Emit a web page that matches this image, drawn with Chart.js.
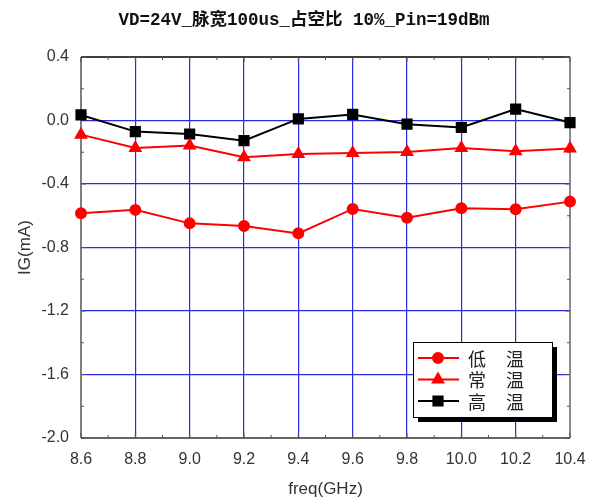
<!DOCTYPE html>
<html>
<head>
<meta charset="utf-8">
<script src="https://cdn.jsdelivr.net/npm/chart.js@4.4.0/dist/chart.umd.min.js"></script>
<style>
  html, body { margin: 0; padding: 0; background: #fff; }
  #wrap { width: 594px; height: 504px; }
</style>
</head>
<body>
<div id="wrap"><canvas id="igChart"></canvas></div>
<script>
// 数据：从原图读取
const freqs = [8.6, 8.8, 9.0, 9.2, 9.4, 9.6, 9.8, 10.0, 10.2, 10.4];
const lowTemp = [-0.584, -0.563, -0.648, -0.665, -0.711, -0.557, -0.612, -0.553, -0.559, -0.511];
const roomTemp = [-0.089, -0.173, -0.158, -0.232, -0.211, -0.205, -0.199, -0.173, -0.194, -0.177];
const highTemp = [0.035, -0.070, -0.085, -0.127, 0.010, 0.038, -0.023, -0.044, 0.072, -0.013];
const seriesNames = ['低温', '常温', '高温'];
const xTicks = [8.6, 8.8, 9.0, 9.2, 9.4, 9.6, 9.8, 10.0, 10.2, 10.4];
const yTicks = [0.4, 0.0, -0.4, -0.8, -1.2, -1.6, -2.0];
const chartTitle = 'VD=24V_脉宽100us_占空比 10%_Pin=19dBm';
const xTitle = 'freq(GHz)';
const yTitle = 'IG(mA)';

(function () {
  const gridBlue = '#2a2ae6';
  const tickFont = { family: '"Liberation Sans", Arial, sans-serif', size: 16 };

  function toPoints(ys) {
    return freqs.map((x, i) => ({ x, y: ys[i] }));
  }

  // 边框 + 内向刻度
  const framePlugin = {
    id: 'frame',
    beforeDatasetsDraw(chart) {
      const { ctx, chartArea: a, scales } = chart;
      const xs = scales.x, ys = scales.y;
      ctx.save();
      ctx.lineWidth = 1.5;
      ctx.strokeStyle = '#000';
      ctx.beginPath(); ctx.moveTo(a.left, a.top); ctx.lineTo(a.right, a.top); ctx.stroke();
      ctx.strokeStyle = '#666';
      ctx.beginPath(); ctx.moveTo(a.right, a.top); ctx.lineTo(a.right, a.bottom); ctx.stroke();
      ctx.strokeStyle = '#555';
      ctx.beginPath(); ctx.moveTo(a.left, a.top); ctx.lineTo(a.left, a.bottom); ctx.stroke();
      ctx.strokeStyle = '#333';
      ctx.beginPath(); ctx.moveTo(a.left, a.bottom); ctx.lineTo(a.right, a.bottom); ctx.stroke();

      ctx.lineWidth = 1;
      ctx.strokeStyle = '#555';
      // x 方向刻度（主 0.2，次 0.1）
      for (let i = 0; i <= 18; i++) {
        const v = 8.6 + i * 0.1;
        const px = xs.getPixelForValue(v);
        const len = i % 2 === 0 ? 5 : 3;
        ctx.beginPath();
        ctx.moveTo(px, a.bottom); ctx.lineTo(px, a.bottom - len);
        ctx.moveTo(px, a.top); ctx.lineTo(px, a.top + len);
        ctx.stroke();
      }
      // y 方向刻度（主 0.4，次 0.2）
      for (let i = 0; i <= 12; i++) {
        const v = -2.0 + i * 0.2;
        const py = ys.getPixelForValue(v);
        const len = i % 2 === 0 ? 5 : 3;
        ctx.beginPath();
        ctx.moveTo(a.left, py); ctx.lineTo(a.left + len, py);
        ctx.moveTo(a.right, py); ctx.lineTo(a.right - len, py);
        ctx.stroke();
      }
      ctx.restore();
    },
  };

  // 图例：带阴影的方框，位于绘图区右下
  const legendPlugin = {
    id: 'boxLegend',
    afterDraw(chart) {
      const { ctx, chartArea: a } = chart;
      const right = a.right - 18, bottom = a.bottom - 21;
      const w = 139, h = 75;
      const left = right - w, top = bottom - h;
      ctx.save();
      ctx.fillStyle = '#000';
      ctx.fillRect(left + 5, top + 5, w, h);
      ctx.fillStyle = '#fff';
      ctx.fillRect(left, top, w, h);
      ctx.strokeStyle = '#000';
      ctx.lineWidth = 1;
      ctx.strokeRect(left + 0.5, top + 0.5, w, h);

      chart.data.datasets.forEach((ds, i) => {
        const y = top + 16 + i * 21.5;
        ctx.strokeStyle = ds.borderColor;
        ctx.lineWidth = 2;
        ctx.beginPath();
        ctx.moveTo(left + 5, y); ctx.lineTo(left + 46, y);
        ctx.stroke();
        ctx.fillStyle = ds.pointBackgroundColor;
        Chart.helpers.drawPoint(ctx, {
          pointStyle: ds.pointStyle,
          radius: ds.pointRadius,
          rotation: 0,
          borderWidth: 1,
        }, left + 25, y);
        ctx.fillStyle = '#222';
        ctx.font = '18px "Noto Sans CJK SC", sans-serif';
        ctx.textAlign = 'center';
        ctx.textBaseline = 'middle';
        const name = ds.label;
        ctx.fillText(name[0], left + 64, y + 1);
        ctx.fillText(name[1], left + 102, y + 1);
      });
      ctx.restore();
    },
  };

  const colors = ['#ff0000', '#ff0000', '#000000'];
  const styles = ['circle', 'triangle', 'rect'];
  const radii = [5, 6, 6.5];
  const series = [lowTemp, roomTemp, highTemp];

  new Chart(document.getElementById('igChart'), {
    type: 'line',
    data: {
      datasets: series.map((ys, i) => ({
        label: seriesNames[i],
        data: toPoints(ys),
        borderColor: colors[i],
        backgroundColor: colors[i],
        pointBackgroundColor: colors[i],
        pointBorderColor: colors[i],
        pointStyle: styles[i],
        pointRadius: radii[i],
        borderWidth: 2,
        tension: 0,
        clip: false,
      })),
    },
    options: {
      responsive: true,
      maintainAspectRatio: false,
      animation: false,
      layout: { padding: { left: 14, right: 0, top: 0, bottom: 0 } },
      plugins: {
        legend: { display: false },
        tooltip: { enabled: false },
        title: {
          display: true,
          text: chartTitle,
          color: '#111',
          font: { family: '"Liberation Mono", "Noto Sans CJK SC", monospace', size: 17.5, weight: 'bold' },
          padding: { top: 10, bottom: 26 },
        },
      },
      scales: {
        x: {
          type: 'linear',
          min: 8.6,
          max: 10.4,
          afterBuildTicks: (s) => { s.ticks = xTicks.map((v) => ({ value: v })); },
          afterFit: (s) => { s.height = 66; s.paddingLeft = 0; s.paddingRight = 24; },
          border: { display: false },
          grid: {
            drawTicks: false,
            color: (c) => (c.tick && (c.tick.value === 8.6 || c.tick.value === 10.4) ? 'rgba(0,0,0,0)' : gridBlue),
            lineWidth: 1.2,
          },
          ticks: {
            padding: 12,
            color: '#333',
            font: tickFont,
            maxRotation: 0,
            callback: (v) => Number(v).toFixed(1),
          },
          title: {
            display: true,
            text: xTitle,
            color: '#333',
            font: { family: '"Liberation Sans", Arial, sans-serif', size: 17 },
            padding: { top: 0, bottom: 4 },
          },
        },
        y: {
          min: -2.0,
          max: 0.4,
          afterBuildTicks: (s) => { s.ticks = yTicks.map((v) => ({ value: v })); },
          afterFit: (s) => { s.width = 67; },
          border: { display: false },
          grid: {
            drawTicks: false,
            color: (c) => (c.tick && (c.tick.value === 0.4 || c.tick.value === -2.0) ? 'rgba(0,0,0,0)' : gridBlue),
            lineWidth: 1.2,
          },
          ticks: {
            padding: 12,
            color: '#333',
            font: tickFont,
            callback: (v) => Number(v).toFixed(1),
          },
          title: {
            display: true,
            text: yTitle,
            color: '#333',
            font: { family: '"Liberation Sans", Arial, sans-serif', size: 17 },
            padding: { top: 1, bottom: 0 },
          },
        },
      },
    },
    plugins: [framePlugin, legendPlugin],
  });
})();
</script>
</body>
</html>
